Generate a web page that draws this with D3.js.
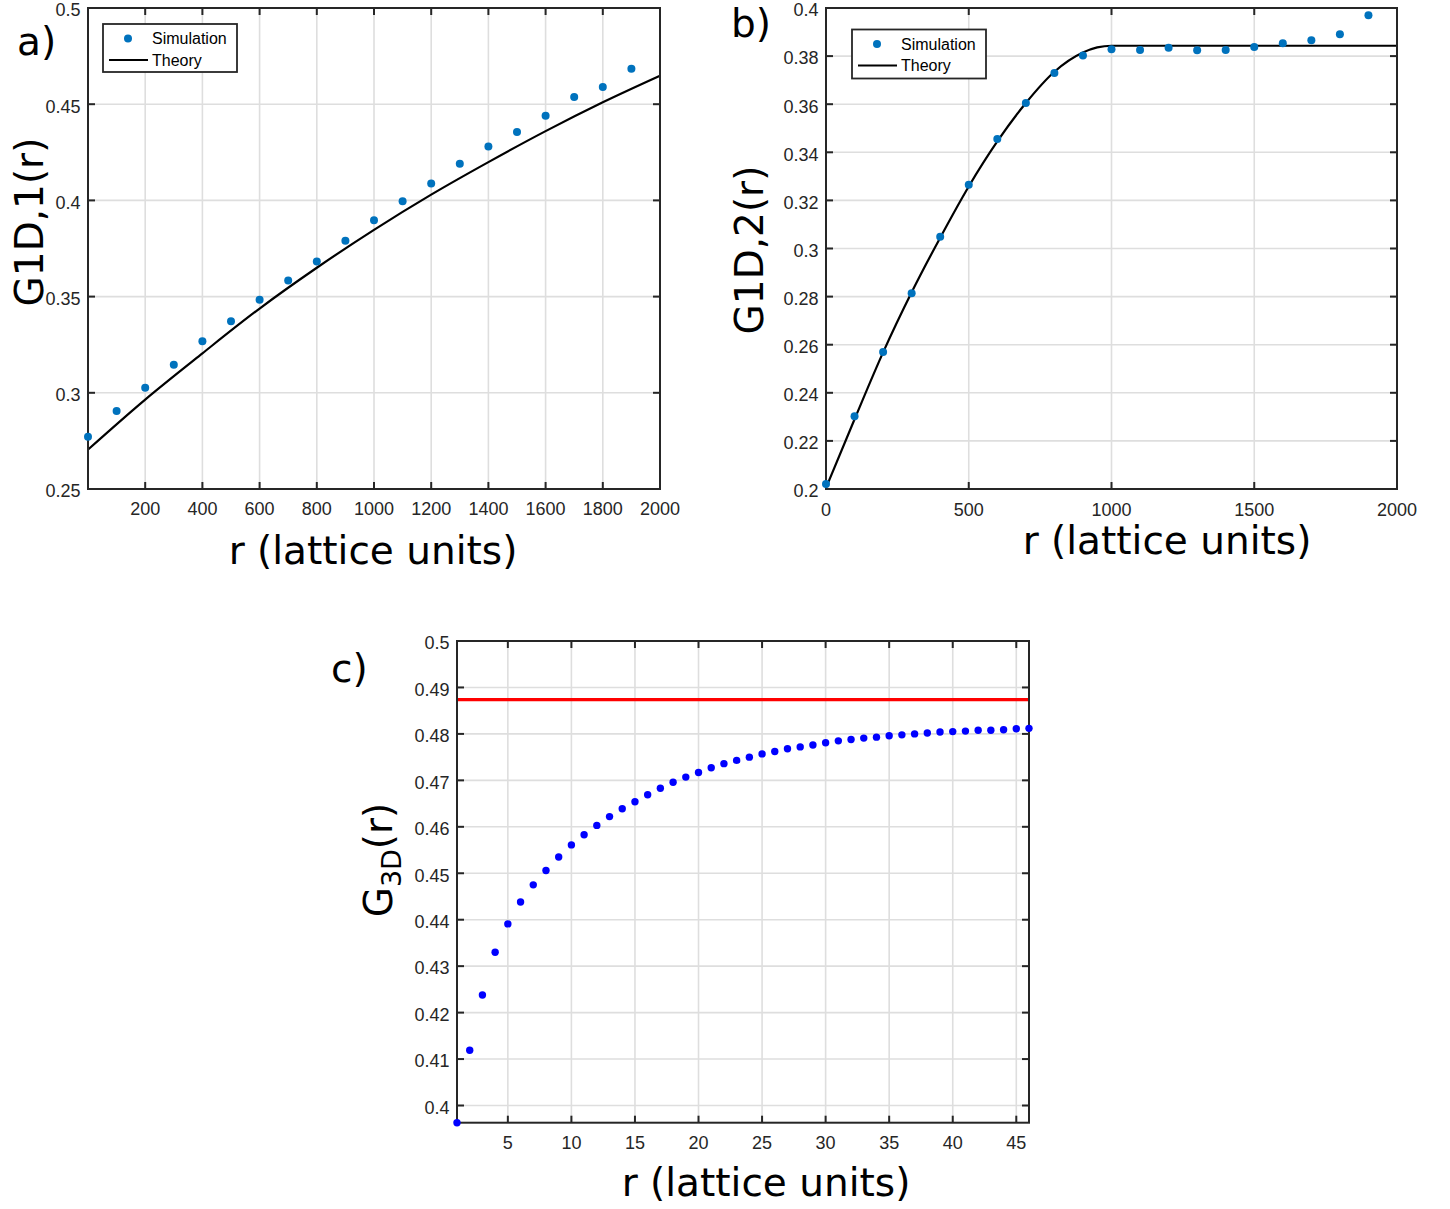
<!DOCTYPE html>
<html><head><meta charset="utf-8">
<script src="https://cdn.jsdelivr.net/npm/d3@7"></script>
<style>body{margin:0;background:#fff}svg{display:block}</style>
</head><body>
<svg id="fig" width="1450" height="1209"></svg>
<script>
// ---------- Panel a data ----------
const aR = [0,100,200,300,400,500,600,700,800,900,1000,1100,1200,1300,1400,1500,1600,1700,1800,1900];
const aSim = [0.2771,0.2906,0.3026,0.3146,0.3268,0.3372,0.3483,0.3584,0.3682,0.3790,0.3897,0.3996,0.4088,0.4190,0.4280,0.4355,0.4440,0.4538,0.4590,0.4684];
const aTheoryR = [0,200,400,600,800,1000,1200,1400,1600,1800,2000];
const aTheory = [0.2705,0.2965,0.3205,0.3438,0.3650,0.3847,0.4030,0.4199,0.4360,0.4510,0.4648];
const aXTicks = [200,400,600,800,1000,1200,1400,1600,1800,2000];
const aYTicks = [0.25,0.3,0.35,0.4,0.45,0.5];

// ---------- Panel b data ----------
const bR = [0,100,200,300,400,500,600,700,800,900,1000,1100,1200,1300,1400,1500,1600,1700,1800,1900];
const bSim = [0.2021,0.2302,0.2570,0.2814,0.3049,0.3265,0.3455,0.3605,0.3730,0.3802,0.3828,0.3825,0.3835,0.3824,0.3825,0.3838,0.3853,0.3866,0.3891,0.3970];
const bTheoryR = [0,100,200,300,400,500,600,700,800,900,950,1000,1500,2000];
const bTheory = [0.2005,0.2290,0.2568,0.2818,0.3045,0.3258,0.3445,0.3605,0.3735,0.3815,0.3836,0.3843,0.3843,0.3843];
const bXTicks = [0,500,1000,1500,2000];
const bYTicks = [0.2,0.22,0.24,0.26,0.28,0.3,0.32,0.34,0.36,0.38,0.4];

// ---------- Panel c data ----------
const cR = d3.range(1,47);
const cSim = [0.3963,0.4119,0.4238,0.4330,0.4391,0.4438,0.4475,0.4506,0.4535,0.4561,
              0.4583,0.4603,0.4622,0.4639,0.4654,0.4669,0.4683,0.4696,0.4707,0.4717,
              0.4727,0.4736,0.4743,0.4750,0.4757,0.4762,0.4768,0.4772,0.4776,0.4781,
              0.4785,0.4788,0.4791,0.4793,0.4796,0.4798,0.4800,0.4802,0.4804,0.4805,
              0.4806,0.4808,0.4808,0.4809,0.4811,0.4812];
const cLimit = 0.4874;
const cXTicks = [5,10,15,20,25,30,35,40,45];
const cYTicks = [0.4,0.41,0.42,0.43,0.44,0.45,0.46,0.47,0.48,0.49,0.5];

const svg = d3.select('#fig');
const AX = '#262626', GRID = '#dedede';
const TICKFONT = "'Liberation Sans', Arial, Helvetica, sans-serif";
const BIGFONT = "'DejaVu Sans', Verdana, sans-serif";
const fmt = v => String(+v.toFixed(3));

function panel(o){
  const g = svg.append('g');
  const x = d3.scaleLinear().domain(o.xd).range([o.l, o.r]);
  const y = d3.scaleLinear().domain(o.yd).range([o.b, o.t]);
  // grid
  g.append('g').selectAll('line').data(o.xt).join('line')
    .attr('x1', d=>x(d)).attr('x2', d=>x(d)).attr('y1', o.t).attr('y2', o.b)
    .attr('stroke', GRID).attr('stroke-width', 1.6);
  g.append('g').selectAll('line').data(o.yt).join('line')
    .attr('y1', d=>y(d)).attr('y2', d=>y(d)).attr('x1', o.l).attr('x2', o.r)
    .attr('stroke', GRID).attr('stroke-width', 1.6);
  // ticks (inward, all sides)
  const tl = 7;
  const tk = g.append('g').attr('stroke', AX).attr('stroke-width', 2);
  o.xt.forEach(d=>{
    tk.append('line').attr('x1',x(d)).attr('x2',x(d)).attr('y1',o.b).attr('y2',o.b-tl);
    tk.append('line').attr('x1',x(d)).attr('x2',x(d)).attr('y1',o.t).attr('y2',o.t+tl);
  });
  o.yt.forEach(d=>{
    tk.append('line').attr('y1',y(d)).attr('y2',y(d)).attr('x1',o.l).attr('x2',o.l+tl);
    tk.append('line').attr('y1',y(d)).attr('y2',y(d)).attr('x1',o.r).attr('x2',o.r-tl);
  });
  // tick labels
  g.append('g').selectAll('text').data(o.xt).join('text')
    .attr('x', d=>x(d)).attr('y', o.b + o.xlOff).attr('dy','0.35em')
    .attr('text-anchor','middle').attr('font-family',TICKFONT).attr('font-size',18)
    .attr('fill',AX).text(fmt);
  g.append('g').selectAll('text').data(o.yt).join('text')
    .attr('x', o.l - 7.5).attr('y', d=>y(d) + 2).attr('dy','0.35em')
    .attr('text-anchor','end').attr('font-family',TICKFONT).attr('font-size',18)
    .attr('fill',AX).text(fmt);
  // data
  if (o.line) {
    g.append('path').datum(o.line.r.map((r,i)=>[r,o.line.v[i]]))
      .attr('d', d3.line().x(d=>x(d[0])).y(d=>y(d[1])).curve(d3.curveMonotoneX))
      .attr('fill','none').attr('stroke','#000').attr('stroke-width',2.2);
  }
  if (o.hline !== undefined) {
    g.append('line').attr('x1',o.l).attr('x2',o.r).attr('y1',y(o.hline)).attr('y2',y(o.hline))
      .attr('stroke','#ff0000').attr('stroke-width',3.2);
  }
  // box
  g.append('rect').attr('x',o.l).attr('y',o.t).attr('width',o.r-o.l).attr('height',o.b-o.t)
    .attr('fill','none').attr('stroke',AX).attr('stroke-width',2);
  g.append('g').selectAll('circle').data(o.pr.map((r,i)=>[r,o.pv[i]])).join('circle')
    .attr('cx', d=>x(d[0])).attr('cy', d=>y(d[1])).attr('r', o.mr).attr('fill', o.mc);
  // legend
  if (o.leg) {
    const L = o.leg;
    const lg = g.append('g');
    lg.append('rect').attr('x',L.x).attr('y',L.y).attr('width',L.w).attr('height',L.h)
      .attr('fill','#fff').attr('stroke',AX).attr('stroke-width',1.8);
    lg.append('circle').attr('cx',L.x+25).attr('cy',L.y+14.5).attr('r',4).attr('fill',o.mc);
    lg.append('line').attr('x1',L.x+6).attr('x2',L.x+45).attr('y1',L.y+36).attr('y2',L.y+36)
      .attr('stroke','#000').attr('stroke-width',2.2);
    lg.append('text').attr('x',L.x+49).attr('y',L.y+14.5).attr('dy','0.35em')
      .attr('font-family',TICKFONT).attr('font-size',16).attr('fill','#000').text('Simulation');
    lg.append('text').attr('x',L.x+49).attr('y',L.y+36).attr('dy','0.35em')
      .attr('font-family',TICKFONT).attr('font-size',16).attr('fill','#000').text('Theory');
  }
  // labels
  g.append('text').attr('x', o.xlab[0]).attr('y', o.xlab[1]).attr('text-anchor','middle')
    .attr('font-family',BIGFONT).attr('font-size',39).attr('fill','#000').text('r (lattice units)');
  const yl = g.append('text').attr('transform',`translate(${o.ylab[0]},${o.ylab[1]}) rotate(-90)`)
    .attr('text-anchor','middle').attr('font-family',BIGFONT).attr('font-size',39).attr('fill','#000');
  o.ylabText.forEach(p=>{
    const ts = yl.append('tspan').text(p.t);
    if (p.sub) ts.attr('font-size',27).attr('dy',9);
    if (p.back) ts.attr('dy',-9);
  });
  g.append('text').attr('x', o.tag[0]).attr('y', o.tag[1])
    .attr('font-family',BIGFONT).attr('font-size',39).attr('fill','#000').text(o.tag[2]);
}

panel({
  l:88, r:660, t:8, b:489, xd:[0,2000], yd:[0.25,0.5], xt:aXTicks, yt:aYTicks, xlOff:20,
  pr:aR, pv:aSim, mr:4, mc:'#0072BD', line:{r:aTheoryR, v:aTheory},
  leg:{x:103,y:24,w:134,h:48},
  xlab:[373,564], ylab:[43,222], ylabText:[{t:'G1D,1(r)'}], tag:[17,55,'a)']
});
panel({
  l:826, r:1397, t:8, b:489, xd:[0,2000], yd:[0.2,0.4], xt:bXTicks, yt:bYTicks, xlOff:21,
  pr:bR, pv:bSim, mr:4, mc:'#0072BD', line:{r:bTheoryR, v:bTheory},
  leg:{x:852,y:29.5,w:134,h:49},
  xlab:[1167,554], ylab:[763,250], ylabText:[{t:'G1D,2(r)'}], tag:[731,37,'b)']
});
panel({
  l:457, r:1029, t:641, b:1122.7, xd:[1,46], yd:[0.3963,0.5], xt:cXTicks, yt:cYTicks, xlOff:20,
  pr:cR, pv:cSim, mr:3.7, mc:'#0000ff', hline:cLimit,
  xlab:[766,1196], ylab:[392,860], ylabText:[{t:'G'},{t:'3D',sub:true},{t:'(r)',back:true}], tag:[331,682,'c)']
});
</script>
</body></html>
